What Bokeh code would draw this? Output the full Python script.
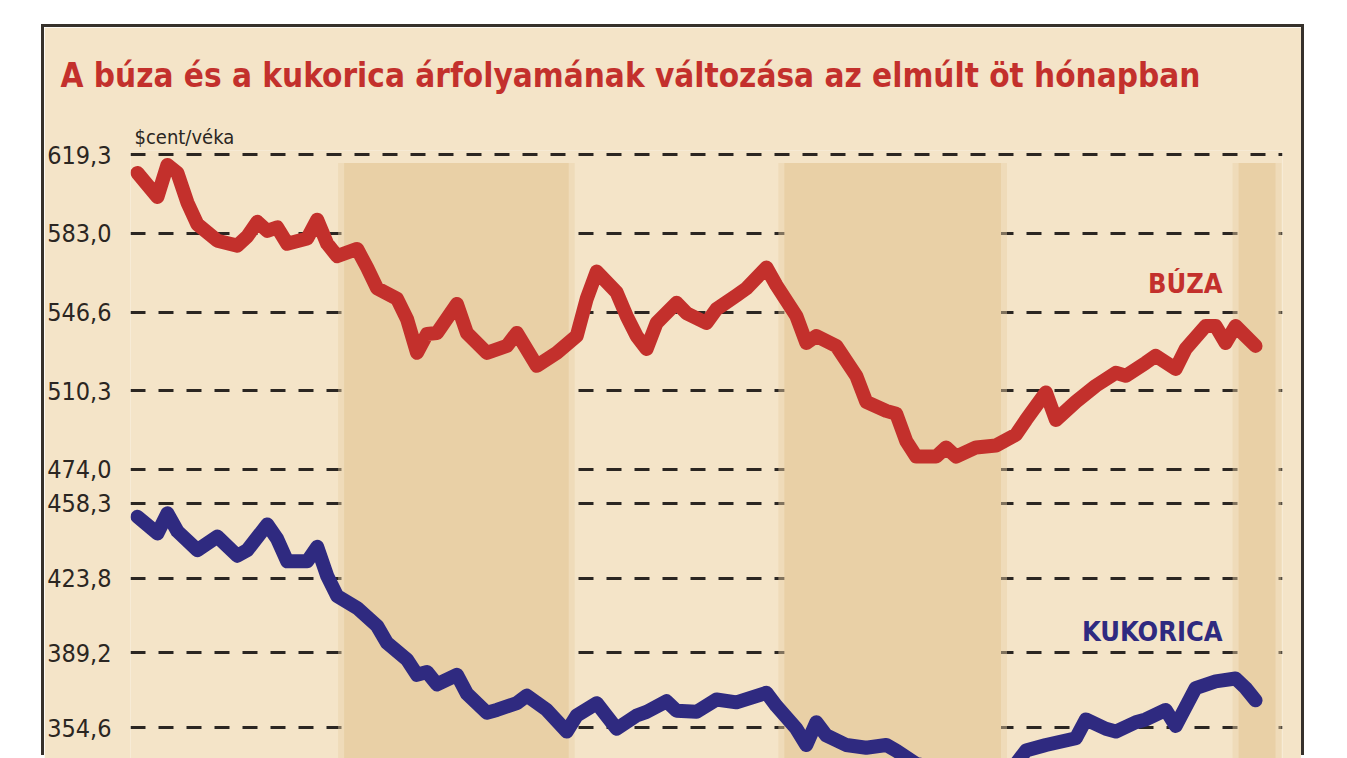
from bokeh.plotting import figure
from bokeh.models import Range1d, FixedTicker, Title, Label, BoxAnnotation
from bokeh.embed import file_html
from bokeh.resources import INLINE

# ---------------- data ----------------
title_text = "A búza és a kukorica árfolyamának változása az elmúlt öt hónapban"
unit_text = "$cent/véka"
wheat_name = "BÚZA"
corn_name = "KUKORICA"

y_ticks = [619.3, 583.0, 546.6, 510.3, 474.0, 458.3, 423.8, 389.2, 354.6]
y_tick_labels = ["619,3", "583,0", "546,6", "510,3", "474,0",
                 "458,3", "423,8", "389,2", "354,6"]

# trading-day index within the five months
wheat_day = [0, 2, 3, 4, 5, 6, 8, 10, 11, 12, 13, 14, 15, 17, 18, 19, 20, 22, 23, 24,
             26, 27, 28, 29, 30, 32, 33, 35, 37, 38, 40, 42, 44, 45, 46, 48, 49, 50, 51, 52,
             54, 55, 57, 58, 60, 61, 63, 64, 66, 67, 68, 70, 72, 73, 75, 76, 77, 78, 80, 81,
             82, 84, 86, 88, 89, 91, 92, 94, 96, 98, 99, 101, 102, 104, 105, 107, 108, 109,
             110, 111, 112]
wheat_price = [610.9, 599.8, 614.6, 610.9, 597.2, 587.2, 579.6, 577.3, 581.6, 588.3,
               584.1, 585.7, 578.2, 580.6, 589.3, 578.2, 572.5, 575.8, 567.2, 557.6,
               552.8, 543.4, 527.8, 536.5, 537.0, 550.4, 537.0, 527.8, 531.0, 537.0,
               521.8, 527.8, 535.6, 552.8, 565.3, 555.7, 544.8, 535.6, 529.6, 541.6,
               550.9, 546.1, 541.6, 548.0, 554.3, 557.6, 567.2, 559.0, 544.8, 532.4,
               535.6, 531.0, 517.2, 505.2, 501.0, 499.7, 487.1, 479.9, 479.9, 484.1,
               479.9, 484.1, 485.0, 490.0, 496.8, 509.5, 496.8, 505.2, 512.6, 518.6,
               517.2, 523.2, 526.4, 520.4, 529.6, 540.2, 540.2, 532.4, 540.2, 535.6,
               531.0]

corn_day = [0, 2, 3, 4, 6, 8, 10, 11, 13, 14, 15, 17, 18, 19, 20, 22, 24, 25, 27, 28,
            29, 30, 32, 33, 35, 36, 38, 39, 41, 43, 44, 46, 48, 50, 51, 53, 54, 56, 58, 60,
            63, 64, 66, 67, 68, 69, 71, 73, 75, 76, 78, 80, 82, 84, 86, 88, 89, 91, 94, 95,
            97, 98, 100, 101, 103, 104, 105, 106, 108, 110, 111, 112]
corn_price = [452.1, 444.4, 453.7, 445.4, 436.7, 442.9, 434.1, 436.7, 448.5, 441.8,
              431.5, 431.5, 438.2, 424.8, 415.5, 410.0, 401.7, 393.8, 386.1, 379.1,
              380.4, 374.7, 379.1, 370.4, 361.6, 362.9, 366.0, 369.5, 362.9, 352.9,
              360.3, 366.0, 354.2, 360.3, 362.0, 366.9, 362.5, 362.0, 367.7, 366.4,
              370.8, 364.7, 354.2, 346.7, 357.2, 351.1, 346.7, 345.4, 346.7, 344.1,
              338.0, 336.0, 334.0, 333.0, 335.0, 338.0, 344.1, 346.7, 349.8, 358.5,
              354.2, 352.9, 357.2, 358.5, 362.9, 355.5, 364.2, 373.0, 376.1, 377.4,
              373.0, 367.3]

# alternate (shaded) months, in trading days
shaded_months = [(20.7, 43.2), (64.8, 86.5), (110.3, 114.0)]

# ---------------- styling ----------------
BG = "#f4e4c8"
BAND = "#e9d0a6"
RED = "#c3302c"
BLUE = "#2f2a80"
INK = "#2b2622"
NARROW = "DejaVu Sans Condensed"

p = figure(width=1257, height=731, output_backend="svg", toolbar_location=None,
           x_axis_type=None, title=None,
           x_range=Range1d(-0.7, 114.7), y_range=Range1d(340.45, 621.25),
           min_border_left=84, min_border_right=19, min_border_top=0, min_border_bottom=0,
           background_fill_color=BG, border_fill_color=BG, outline_line_color=None)
p.margin = (27, 0, 0, 44)
p.styles = {"box-shadow": "-3px -3px 0 0 #36312b, 3px -3px 0 0 #36312b"}

for (a, b) in shaded_months:
    p.add_layout(BoxAnnotation(left=a - 0.6, right=b + 0.6, top=615.5, fill_color=BAND,
                               fill_alpha=0.45, line_color=None, level="underlay"))
    p.add_layout(BoxAnnotation(left=a, right=b, top=615.5, fill_color=BAND,
                               fill_alpha=1.0, line_color=None, level="underlay"))

p.ygrid.ticker = FixedTicker(ticks=y_ticks)
p.ygrid.grid_line_color = INK
p.ygrid.grid_line_width = 3
p.ygrid.grid_line_dash = "15 13"
p.ygrid.level = "underlay"
p.xgrid.visible = False

p.yaxis.ticker = FixedTicker(ticks=y_ticks)
p.yaxis.major_label_overrides = {t: s for t, s in zip(y_ticks, y_tick_labels)}
p.yaxis.axis_line_color = None
p.yaxis.major_tick_line_color = None
p.yaxis.minor_tick_line_color = None
p.yaxis.major_label_standoff = 13
p.yaxis.major_label_text_font = NARROW
p.yaxis.major_label_text_font_size = "25px"
p.yaxis.major_label_text_color = INK

p.line(wheat_day, wheat_price, line_color=RED, line_width=14, line_join="round", line_cap="round")
p.line(corn_day, corn_price, line_color=BLUE, line_width=14, line_join="round", line_cap="round")

p.add_layout(Label(x=108.7, y=560.0, text=wheat_name, text_align="right", text_baseline="alphabetic",
                   text_font=NARROW, text_font_style="bold", text_font_size="27px", text_color=RED))
p.add_layout(Label(x=108.7, y=399.0, text=corn_name, text_align="right", text_baseline="alphabetic",
                   text_font=NARROW, text_font_style="bold", text_font_size="27px", text_color=BLUE))

p.add_layout(Title(text=unit_text, align="left", offset=4, standoff=4, text_font=NARROW,
                   text_font_style="normal", text_font_size="20px", text_color=INK), "above")
p.add_layout(Title(text=title_text, align="left", offset=-70, standoff=52, text_font=NARROW,
                   text_font_style="bold", text_font_size="33px", text_color=RED), "above")

open("out.html", "w").write(file_html(p, INLINE))
